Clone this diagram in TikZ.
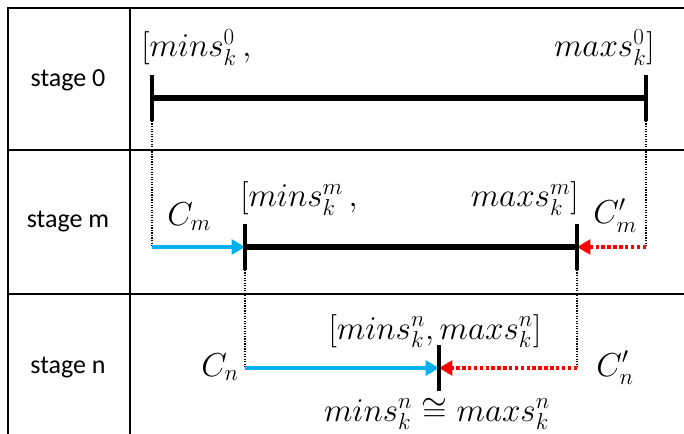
\documentclass[tikz,border=0pt]{standalone}
\usepackage{fontspec}
\setmainfont{Carlito}
\usetikzlibrary{arrows.meta}
\definecolor{skyblue}{RGB}{0,176,240}
\definecolor{mred}{RGB}{255,0,0}
\begin{document}
\begin{tikzpicture}[x=0.75pt,y=-0.75pt,
  grid/.style={line width=1.5pt},
  stagelabel/.style={font=\fontsize{19.5}{22}\selectfont},
  mathlabel/.style={font=\fontsize{24}{28}\selectfont, inner sep=0pt},
  bar/.style={line width=4pt},
  tickbox/.style={fill=black, inner sep=0pt, minimum width=3.6pt, minimum height=34pt},
  guide/.style={line width=0.9pt, densely dotted},
  minarrow/.style={draw=skyblue, line width=2.6pt, -{Triangle[length=10pt,width=11pt]}},
  maxarrow/.style={draw=mred, line width=2.6pt, dash pattern=on 2.6pt off 1.8pt, -{Triangle[length=10pt,width=11pt]}}
]
\useasboundingbox (0,0) rectangle (684,434);
% table
\draw[grid, line join=miter] (8,434) -- (8,8) -- (684,8);
\draw[grid] (130,8) -- (130,434);
\draw[grid] (8,150) -- (684,150);
\draw[grid] (8,294) -- (684,294);
% stage labels
\node[stagelabel] (s0) at (68,80) {stage 0};
\node[stagelabel] (sm) at (68,222) {stage m};
\node[stagelabel] (sn) at (68,368) {stage n};
% anchor coordinates
\coordinate (cm0) at (152,247);
\coordinate (cpm0) at (646,247);
\coordinate (cn0) at (245,368);
\coordinate (cpn0) at (577,368);
% tick positions
\path (152,98) coordinate (L0p) (646,98) coordinate (R0p)
      (245,247) coordinate (Lmp) (577,247) coordinate (Rmp)
      (439,368) coordinate (Np);
\node[tickbox] (L0) at (L0p) {};
\node[tickbox] (R0) at (R0p) {};
\node[tickbox] (Lm) at (Lmp) {};
\node[tickbox] (Rm) at (Rmp) {};
% guides
\draw[guide] (L0.south) -- (cm0);
\draw[guide] (R0.south) -- (cpm0);
\draw[guide] (Lm.south) -- (cn0);
\draw[guide] (Rm.south) -- (cpn0);
% bars
\draw[bar] (L0.center) -- (R0.center);
\draw[bar] (Lm.center) -- (Rm.center);
% arrows
\draw[minarrow] (cm0) -- (Lm.center);
\draw[maxarrow] (cpm0) -- (Rm.center);
\draw[minarrow] (cn0) -- (Np);
\draw[maxarrow] (cpn0) -- (Np);
\node[tickbox] (N) at (Np) {};
% redraw ticks on top
\node[tickbox] at (Lmp) {};
\node[tickbox] at (Rmp) {};
% labels
\node[mathlabel, anchor=base west] (min0) at (141,57) {$[mins_k^0\,,$};
\node[mathlabel, anchor=base east] (max0) at (655,57) {$maxs_k^0]$};
\node[mathlabel, anchor=base west] (minm) at (240,207) {$[mins_k^m\,,$};
\node[mathlabel, anchor=base east] (maxm) at (579,207) {$maxs_k^m]$};
\node[mathlabel, anchor=base west] (cm) at (167,226) {$C_m$};
\node[mathlabel, anchor=base west] (cpm) at (593,224) {$C'_m$};
\node[mathlabel, anchor=base] (rn) at (435,339) {$[mins_k^n, maxs_k^n]$};
\node[mathlabel, anchor=base west] (cn) at (201,376) {$C_n$};
\node[mathlabel, anchor=base west] (cpn) at (596,376) {$C'_n$};
\node[mathlabel, anchor=base] (eqn) at (437,421) {$mins_k^n \cong maxs_k^n$};
\end{tikzpicture}
\end{document}
